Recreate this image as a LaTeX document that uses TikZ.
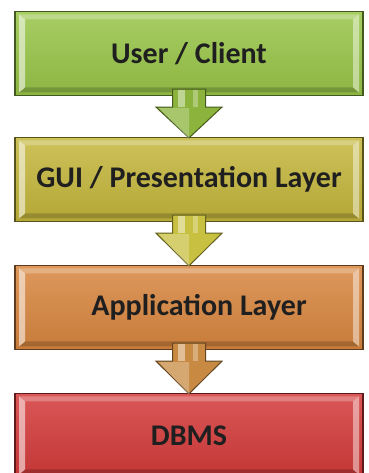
\documentclass[tikz,border=0pt]{standalone}
\usepackage{fontspec}
\setmainfont{Carlito}
\usetikzlibrary{calc}

\definecolor{usergreen}{HTML}{98C548}
\definecolor{guiyellow}{HTML}{C4B63C}
\definecolor{apporange}{HTML}{D8863F}
\definecolor{dbmsred}{HTML}{D43A3A}
\definecolor{arrowgreen}{HTML}{8CB43C}
\definecolor{arrowyellow}{HTML}{C8C040}
\definecolor{arrowbrown}{HTML}{C88A42}

\tikzset{
    layer/.style={rectangle, draw=#1!45!black, line width=1.2pt,
        top color=#1!85!white, bottom color=#1!92!black,
        minimum width=348pt, minimum height=84pt, inner sep=0pt,
        font=\fontsize{30}{36}\selectfont\bfseries, text=black!88,
        path picture={
            % bevel round the face
            \fill[white, opacity=0.25] ($(path picture bounding box.north west)+(4,-3)$) -- ($(path picture bounding box.north west)+(10,-8)$)
                -- ($(path picture bounding box.north east)+(-10,-8)$) -- ($(path picture bounding box.north east)+(-4,-3)$) -- cycle;
            \fill[black, opacity=0.18] ($(path picture bounding box.south west)+(4,3)$) -- ($(path picture bounding box.south west)+(10,8)$)
                -- ($(path picture bounding box.south east)+(-10,8)$) -- ($(path picture bounding box.south east)+(-4,3)$) -- cycle;
            \fill[white, opacity=0.55] ($(path picture bounding box.north west)+(4,-3)$) -- ($(path picture bounding box.north west)+(10,-8)$)
                -- ($(path picture bounding box.south west)+(10,8)$) -- ($(path picture bounding box.south west)+(4,3)$) -- cycle;
            \fill[white, opacity=0.45] ($(path picture bounding box.north east)+(-4,-3)$) -- ($(path picture bounding box.north east)+(-10,-8)$)
                -- ($(path picture bounding box.south east)+(-10,8)$) -- ($(path picture bounding box.south east)+(-4,3)$) -- cycle;
        }},
    flow/.style={fill=#1, draw=#1!50!black, line width=1pt, line join=miter},
}

\begin{document}
\begin{tikzpicture}[x=1pt, y=1pt]
    \useasboundingbox (0, 0) rectangle (368, 473);

    \node[layer=usergreen]  (user) at (189, 419.5) {User / Client};
    \node[layer=guiyellow]  (gui)  at (189, 293.5) {GUI / Presentation Layer};
    \node[layer=apporange]  (app)  at (189, 165.5) {\hspace*{20pt}Application Layer};
    \node[layer=dbmsred]    (dbms) at (189, 37.5)  {DBMS};

    % block arrows between the layers
    \foreach \a/\b/\c in {user/gui/arrowgreen, gui/app/arrowyellow, app/dbms/arrowbrown} {
        \draw[flow=\c] ($(\a.south)+(-16.5,7)$) -- ($(\a.south)+(-16.5,-11)$) -- ($(\a.south)+(-33,-11)$)
            -- ($(\b.north)+(0,-1)$) -- ($(\a.south)+(33,-11)$) -- ($(\a.south)+(16.5,-11)$) -- ($(\a.south)+(16.5,7)$) -- cycle;
        \fill[white, opacity=0.45] ($(\a.south)+(-11,6)$) rectangle ($(\a.south)+(-4,-11)$);
        \fill[white, opacity=0.3] ($(\a.south)+(4,6)$) rectangle ($(\a.south)+(9,-11)$);
        \fill[white, opacity=0.25] ($(\a.south)+(-30,-12)$) -- ($(\a.south)+(0,-12)$) -- ($(\b.north)+(0,-2)$) -- cycle;
    }
\end{tikzpicture}
\end{document}
